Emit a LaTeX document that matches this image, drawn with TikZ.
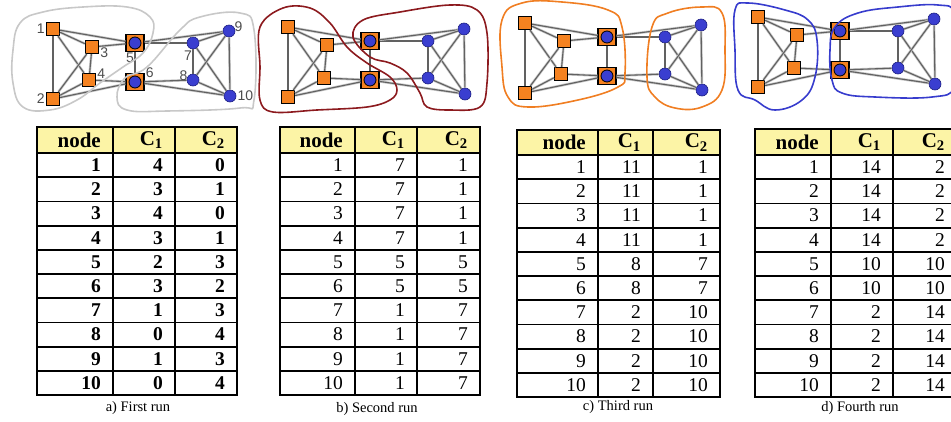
\documentclass[tikz,border=0pt]{standalone}
\usepackage{fontspec}
\setmainfont{Liberation Serif}
\newfontfamily\labelfont{Liberation Sans}
\usetikzlibrary{calc}

\definecolor{vorange}{RGB}{245,130,32}
\definecolor{vblue}{RGB}{58,62,208}
\definecolor{vbluedark}{RGB}{28,30,130}
\definecolor{headyellow}{RGB}{252,244,166}
\definecolor{blobgray}{RGB}{200,200,200}
\definecolor{blobred}{RGB}{140,26,30}
\definecolor{bloborange}{RGB}{240,126,34}
\definecolor{blobblue}{RGB}{55,60,205}

\tikzset{
  sq/.style={rectangle,draw=black,line width=1.3pt,fill=vorange,minimum size=13pt,inner sep=0pt},
  dot/.style={circle,draw=vbluedark,line width=0.6pt,fill=vblue,minimum size=12pt,inner sep=0pt},
  hub/.style={sq,minimum width=18pt,minimum height=17pt,
    path picture={\draw[black,fill=vblue,line width=0.8pt] (path picture bounding box.center) circle (6pt);}},
  link/.style={draw=black!22,double=black!62,double distance=1.1pt,line width=0.7pt},
  blob/.style={line width=1.6pt,line join=round},
  numlabel/.style={font=\labelfont\fontsize{14}{14}\selectfont,text=black!70,inner sep=1pt},
  cell/.style={anchor=east,inner sep=0pt,font=\fontsize{19.5}{20}\selectfont},
  headcell/.style={anchor=east,inner sep=0pt,font=\fontsize{21}{22}\selectfont\bfseries},
  runcaption/.style={font=\fontsize{14.5}{15}\selectfont},
  rowrule/.style={line width=1.8pt},
  tableframe/.style={line width=2.8pt},
}

\begin{document}
\begin{tikzpicture}[x=1pt,y=-1pt]
\useasboundingbox (0,0) rectangle (951,421);
\clip (0,0) rectangle (951,421);

% the same graph, once per run
\foreach \p/\dx/\dy in {a/0/0,b/235/-2,c/472/-6,d/705/-12}{
  \begin{scope}[shift={(\dx,\dy)}]
    \node[sq] (\p1) at (53,29) {};
    \node[sq] (\p2) at (53,99) {};
    \node[sq] (\p3) at (92,47) {};
    \node[sq] (\p4) at (89,80) {};
    \node[hub] (\p5) at (135,43) {};
    \node[hub] (\p6) at (135,82) {};
    \node[dot] (\p7) at (193,43) {};
    \node[dot] (\p8) at (193,80) {};
    \node[dot] (\p9) at (229,31) {};
    \node[dot] (\p10) at (230,96) {};
  \end{scope}
  \foreach \u/\v in {1/2,1/3,1/4,1/5,2/3,2/4,2/6,3/4,3/5,4/6,5/6,5/7,5/9,6/8,6/10,7/8,7/9,7/10,8/9,8/10,9/10}
    \draw[link] (\p\u) -- (\p\v);
}

\node[numlabel,left] at (a1.west) {1};
\node[numlabel,left] at (a2.west) {2};
\node[numlabel,below right] at (a3.east) {3};
\node[numlabel,above right] at (a4.east) {4};
\node[numlabel,below left] at (a5.south) {5};
\node[numlabel,right] at (a6.north east) {6};
\node[numlabel,below left] at (a7.south) {7};
\node[numlabel,left] at (a8.north west) {8};
\node[numlabel,right] at (a9.north east) {9};
\node[numlabel,right] at (a10.east) {10};

% communities
\draw[blob,blobgray] plot[smooth cycle,tension=0.7] coordinates {(13,50) (20,23) (43,12) (83,7) (127,7) (150,17) (153,33) (143,53) (123,67) (100,83) (77,100) (50,110) (23,107) (13,83)};
\draw[blob,blobgray] plot[smooth cycle,tension=0.7] coordinates {(117,97) (125,78) (147,67) (180,30) (200,17) (240,13) (254,30) (254,100) (240,108) (167,111) (127,110)};

\draw[blob,blobred] plot[smooth cycle,tension=0.6] coordinates {(260,27) (283,8) (310,8) (330,23) (347,47) (367,63) (390,77) (397,90) (390,100) (367,107) (317,110) (273,112) (260,100) (260,67)};
\draw[blob,blobred] plot[smooth cycle,tension=0.6] coordinates {(353,37) (363,20) (400,12) (450,5) (477,10) (487,33) (487,83) (480,107) (450,110) (427,107) (420,93) (407,73) (390,63) (370,57)};

\draw[blob,bloborange] plot[smooth cycle,tension=0.7] coordinates {(502,20) (522,3) (562,2) (608,10) (622,27) (625,73) (618,87) (578,100) (528,107) (508,97) (502,67)};
\draw[blob,bloborange] plot[smooth cycle,tension=0.7] coordinates {(652,27) (668,13) (702,7) (722,13) (725,50) (722,90) (702,107) (675,108) (655,97) (647,77)};

\draw[blob,blobblue] plot[smooth cycle,tension=0.7] coordinates {(735,10) (748,3) (785,10) (808,20) (817,40) (815,77) (802,100) (775,110) (755,100) (738,90) (735,50)};
\draw[blob,blobblue] plot[smooth cycle,tension=0.7] coordinates {(835,27) (858,13) (898,7) (938,5) (955,13) (958,50) (955,87) (932,97) (875,97) (842,93) (832,80) (830,50)};

% tables: name/left/col1/col2/right/top/head bottom/series/rows
\foreach \t/\L/\A/\B/\R/\T/\H/\fnt/\rows in {
  a/37/113/175/237/127/153/b/{1/4/0,2/3/1,3/4/0,4/3/1,5/2/3,6/3/2,7/1/3,8/0/4,9/1/3,10/0/4},
  b/280/355/417/480/127/153/m/{1/7/1,2/7/1,3/7/1,4/7/1,5/5/5,6/5/5,7/1/7,8/1/7,9/1/7,10/1/7},
  c/517/598/653/720/130/155/m/{1/11/1,2/11/1,3/11/1,4/11/1,5/8/7,6/8/7,7/2/10,8/2/10,9/2/10,10/2/10},
  d/755/831/893/957/129/155/m/{1/14/2,2/14/2,3/14/2,4/14/2,5/10/10,6/10/10,7/2/14,8/2/14,9/2/14,10/2/14}}{
  \fill[headyellow] (\L,\T) rectangle (\R,\H);
  \node[headcell] (\t-hn) at (\A-12,{(\T+\H)/2}) {node};
  \node[headcell] (\t-h1) at (\B-12,{(\T+\H)/2}) {C\textsubscript{1}};
  \node[headcell] (\t-h2) at (\R-12,{(\T+\H)/2}) {C\textsubscript{2}};
  \foreach \n/\ca/\cb [count=\r] in \rows {
    \node[cell] (\t-\r-n) at (\A-12,{\H+(\r-0.5)*24.2}) {\fontseries{\fnt}\selectfont\n};
    \node[cell] (\t-\r-1) at (\B-12,{\H+(\r-0.5)*24.2}) {\fontseries{\fnt}\selectfont\ca};
    \node[cell] (\t-\r-2) at (\R-12,{\H+(\r-0.5)*24.2}) {\fontseries{\fnt}\selectfont\cb};
    \draw[rowrule] (\L,{\H+\r*24.2}) -- (\R,{\H+\r*24.2});
  }
  \draw[rowrule] (\L,\H) -- (\R,\H);
  \draw[rowrule] (\A,\T) -- (\A,\H+242);
  \draw[rowrule] (\B,\T) -- (\B,\H+242);
  \draw[tableframe] (\L,\T) rectangle (\R,\H+242);
}

\node[runcaption] (capa) at (138,408) {a) First run};
\node[runcaption] (capb) at (377,409) {b) Second run};
\node[runcaption] (capc) at (618,407) {c) Third run};
\node[runcaption] (capd) at (860,408) {d) Fourth run};

\end{tikzpicture}
\end{document}
